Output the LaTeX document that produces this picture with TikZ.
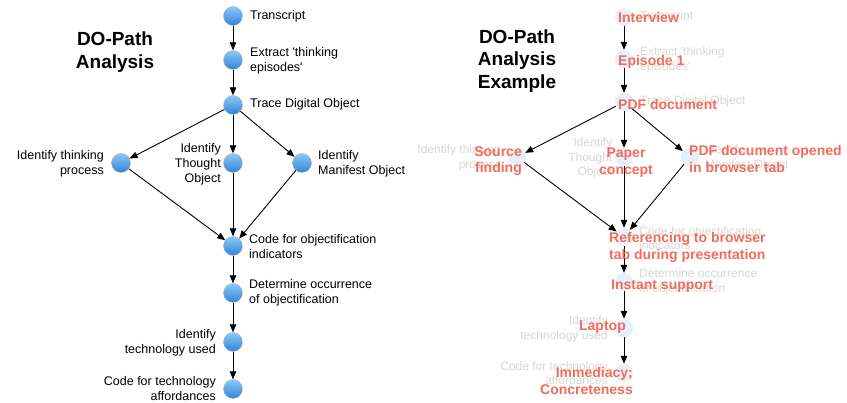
\documentclass[tikz,border=0pt]{standalone}
\usepackage{fontspec}
\setmainfont{Liberation Sans}
\usetikzlibrary{arrows.meta}
\definecolor{ballhi}{RGB}{140,200,246}
\definecolor{balllo}{RGB}{48,132,218}
\definecolor{redlab}{RGB}{242,107,91}
\definecolor{ghosttext}{RGB}{214,214,214}
\definecolor{ghostball}{RGB}{230,240,250}
\begin{document}
\begin{tikzpicture}[x=1pt,y=-1pt,
  ball/.style={circle, minimum size=19pt, inner sep=0pt, draw=black!30, line width=0.4pt, top color=ballhi, bottom color=balllo},
  gball/.style={circle, minimum size=18pt, inner sep=0pt, fill=ghostball},
  lab/.style={font=\fontsize{12.5}{15}\selectfont, inner sep=0pt},
  glab/.style={font=\fontsize{12}{14.3}\selectfont, inner sep=0pt, text=ghosttext},
  rlab/.style={font=\fontsize{14}{16.5}\selectfont\bfseries, inner sep=0pt, text=redlab},
  titlelab/.style={font=\fontsize{19}{22.5}\selectfont\bfseries, align=center, inner sep=0pt},
  arr/.style={-{Triangle[length=8pt,width=6.5pt]}, line width=0.9pt},
]
\useasboundingbox (0,0) rectangle (847,403);

% ---------- left diagram ----------
\node[titlelab] (T1) at (115,52) {DO-Path\\Analysis};

\node[ball] (a1) at (233,16) {};
\node[ball] (a2) at (233,60) {};
\node[ball] (a3) at (233,105) {};
\node[ball] (a4) at (121,163) {};
\node[ball] (a5) at (233,163) {};
\node[ball] (a6) at (302,163) {};
\node[ball] (a7) at (233,246) {};
\node[ball] (a8) at (233,293) {};
\node[ball] (a9) at (233,342) {};
\node[ball] (a10) at (233,389) {};

\node[lab, anchor=west] (l1) at (250,16) {Transcript};
\node[lab, anchor=west, align=left] (l2) at (250,61) {Extract \textquotesingle thinking\\episodes\textquotesingle};
\node[lab, anchor=west] (l3) at (250,104) {Trace Digital Object};
\node[lab, anchor=east, align=right] (l4) at (104,164) {Identify thinking\\process};
\node[lab, anchor=east, align=right] (l5) at (221,164) {Identify\\Thought\\Object};
\node[lab, anchor=west, align=left] (l6) at (318,164) {Identify\\Manifest Object};
\node[lab, anchor=west, align=left] (l7) at (249,247) {Code for objectification\\indicators};
\node[lab, anchor=west, align=left] (l8) at (249,293) {Determine occurrence\\of objectification};
\node[lab, anchor=east, align=right] (l9) at (216,343) {Identify\\technology used};
\node[lab, anchor=east, align=right] (l10) at (216,389) {Code for technology\\affordances};

\draw[arr] (a1) -- (a2);
\draw[arr] (a2) -- (a3);
\draw[arr] (a3) -- (a4);
\draw[arr] (a3) -- (a5);
\draw[arr] (a3) -- (a6);
\draw[arr] (a4) -- (a7);
\draw[arr] (a5) -- (a7);
\draw[arr] (a6) -- (a7);
\draw[arr] (a7) -- (a8);
\draw[arr] (a8) -- (a9);
\draw[arr] (a9) -- (a10);

% ---------- right diagram ----------
\node[titlelab] (T2) at (517,61) {DO-Path\\Analysis\\Example};

\node[gball] (b1) at (624,17) {};
\node[gball] (b2) at (624,59) {};
\node[gball] (b3) at (624,102) {};
\node[gball] (b4) at (517,157) {};
\node[gball] (b5) at (624,157) {};
\node[gball] (b6) at (690,157) {};
\node[gball] (b7) at (624,237) {};
\node[gball] (b8) at (624,282) {};
\node[gball] (b9) at (624,328) {};
\node[gball] (b10) at (624,373) {};

\node[glab, anchor=west] (g1) at (640,16.5) {Transcript};
\node[glab, anchor=west, align=left] (g2) at (640,60) {Extract \textquotesingle thinking\\episodes\textquotesingle};
\node[glab, anchor=west] (g3) at (640,101) {Trace Digital Object};
\node[glab, anchor=east, align=right] (g4) at (501,158) {Identify thinking\\process};
\node[glab, anchor=east, align=right] (g5) at (612.5,158) {Identify\\Thought\\Object};
\node[glab, anchor=west, align=left] (g6) at (705,158) {Identify\\Manifest Object};
\node[glab, anchor=west, align=left] (g7) at (639,238) {Code for objectification\\indicators};
\node[glab, anchor=west, align=left] (g8) at (639,282) {Determine occurrence\\of objectification};
\node[glab, anchor=east, align=right] (g9) at (608,329) {Identify\\technology used};
\node[glab, anchor=east, align=right] (g10) at (608,373) {Code for technology\\affordances};

\draw[arr] (b1) -- (b2);
\draw[arr] (b2) -- (b3);
\draw[arr] (b3) -- (b4);
\draw[arr] (b3) -- (b5);
\draw[arr] (b3) -- (b6);
\draw[arr] (b4) -- (b7);
\draw[arr] (b5) -- (b7);
\draw[arr] (b6) -- (b7);
\draw[arr] (b7) -- (b8);
\draw[arr] (b8) -- (b9);
\draw[arr] (b9) -- (b10);

\node[rlab, anchor=west] (r1) at (618,17) {Interview};
\node[rlab, anchor=west] (r2) at (618,62) {Episode 1};
\node[rlab, anchor=west] (r3) at (618,104) {PDF document};
\node[rlab, anchor=east, align=right] (r4) at (522,161) {Source\\finding};
\node[rlab, align=center] (r5) at (626,162.5) {Paper\\concept};
\node[rlab, anchor=west, align=left] (r6) at (689,159) {PDF document opened\\in browser tab};
\node[rlab, anchor=west, align=left] (r7) at (609,247.5) {Referencing to browser\\tab during presentation};
\node[rlab, anchor=west] (r8) at (611,286) {Instant support};
\node[rlab, anchor=east] (r9) at (626,327) {Laptop};
\node[rlab, anchor=east, align=right] (r10) at (633,381) {Immediacy;\\Concreteness};
\end{tikzpicture}
\end{document}
